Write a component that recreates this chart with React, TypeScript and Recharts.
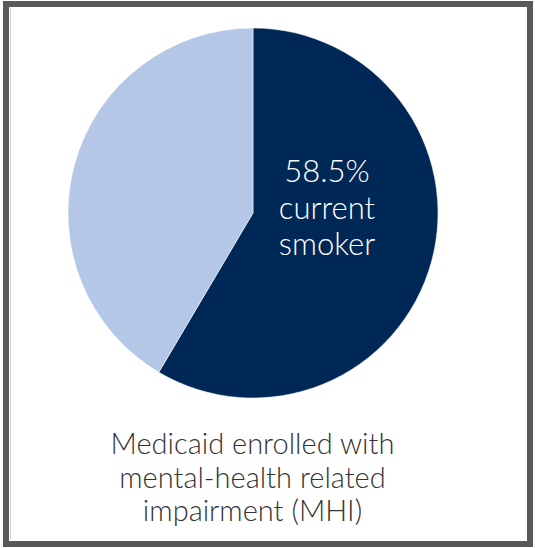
import React from "react";
import { PieChart, Pie, Cell } from "recharts";

const categories = ["Current smoker", "Not current smoker"];
const values = [58.5, 41.5];
const colors = ["#002856", "#B4C7E7"];
const sliceLabel = ["58.5%", "current", "smoker"];
const captionLines = ["Medicaid enrolled with", "mental-health related", "impairment (MHI)"];

const data = categories.map((name, i) => ({ name, value: values[i] }));

const FONT = "Lato, 'Open Sans', sans-serif";

const renderLabel = (props: any) => {
  const { cx, cy, index } = props;
  if (index !== 0) return null;
  return (
    <text
      x={cx + 74}
      y={cy - 43}
      fill="#ffffff"
      textAnchor="middle"
      fontFamily={FONT}
      fontWeight={300}
      fontSize={31}
    >
      {sliceLabel.map((t, i) => (
        <tspan key={i} x={cx + 74} dy={i === 0 ? 0 : 36.5} dominantBaseline="central">
          {t}
        </tspan>
      ))}
    </text>
  );
};

export default function App() {
  return (
    <div style={{ position: "absolute", left: 0, top: 0, width: 535, height: 548, background: "#ffffff", overflow: "hidden" }}>
      <div
        style={{
          position: "absolute",
          left: 3,
          top: 1,
          width: 530,
          height: 546,
          border: "6px solid #595959",
          boxSizing: "border-box",
        }}
      />
      <div
        style={{
          position: "absolute",
          left: 10,
          top: 7,
          width: 1,
          height: 533,
          background: "#d0d0d0",
        }}
      />
      <div style={{ position: "absolute", left: 0, top: 0 }}>
        <PieChart width={506} height={426} margin={{ top: 0, right: 0, bottom: 0, left: 0 }}>
          <Pie
            data={data}
            dataKey="value"
            cx={253}
            cy={213}
            outerRadius={185}
            startAngle={90}
            endAngle={-270}
            stroke="#ffffff"
            strokeWidth={0.5}
            label={renderLabel}
            labelLine={false}
            isAnimationActive={false}
          >
            {data.map((d, i) => (
              <Cell key={d.name} fill={colors[i]} />
            ))}
          </Pie>
        </PieChart>
      </div>
      <div
        style={{
          position: "absolute",
          left: 0,
          top: 426,
          width: 505,
          textAlign: "center",
          fontFamily: FONT,
          fontWeight: 300,
          fontSize: 29,
          lineHeight: "33.5px",
          color: "#333333",
        }}
      >
        {captionLines.map((t, i) => (
          <div key={i}>{t}</div>
        ))}
      </div>
    </div>
  );
}
